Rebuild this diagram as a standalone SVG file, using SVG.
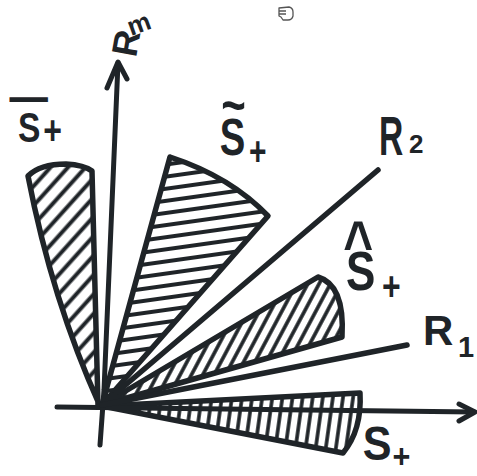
<svg xmlns="http://www.w3.org/2000/svg" width="477" height="476" viewBox="0 0 477 476">
<style>
.ink{stroke:#1f2428;stroke-width:5.5;stroke-linecap:round;stroke-linejoin:round}
.ln{fill:none;stroke:#1f2428;stroke-width:5.5;stroke-linecap:round;stroke-linejoin:round}
.ax{fill:none;stroke:#1f2428;stroke-width:5;stroke-linecap:round;stroke-linejoin:round}
.t{font-family:"Liberation Sans",Arial,sans-serif;font-weight:bold;fill:#1f2428}
</style>
<defs>
<pattern id="h1" patternUnits="userSpaceOnUse" width="13" height="13" patternTransform="rotate(-48)"><line x1="0" y1="6.5" x2="13" y2="6.5" stroke="#1f2428" stroke-width="4"/></pattern>
<pattern id="h2" patternUnits="userSpaceOnUse" width="12" height="12" patternTransform="rotate(-8)"><line x1="0" y1="6" x2="12" y2="6" stroke="#1f2428" stroke-width="4"/></pattern>
<pattern id="h3" patternUnits="userSpaceOnUse" width="10" height="10" patternTransform="rotate(-62)"><line x1="0" y1="5" x2="10" y2="5" stroke="#1f2428" stroke-width="3.6"/></pattern>
<pattern id="h4" patternUnits="userSpaceOnUse" width="10" height="10" patternTransform="rotate(-82)"><line x1="0" y1="5" x2="10" y2="5" stroke="#1f2428" stroke-width="3.6"/></pattern>
</defs>
<rect width="477" height="476" fill="#ffffff"/>

<g id="sector-bar-S">
<path d="M100,406 Q52,300 28,176 Q40,164 66,164 Q84,165 92,171 L98,406 Z" fill="url(#h1)" class="ink"/>
</g>
<g id="sector-tilde-S">
<path d="M102,405 L170,157 Q231,177 268,216 Z" fill="url(#h2)" class="ink"/>
</g>
<g id="sector-hat-S">
<path d="M102,405 L318,277 Q345,285 342,337 Z" fill="url(#h3)" class="ink"/>
</g>
<g id="sector-S">
<path d="M102,406 L360,393 Q362,430 343,453 Z" fill="url(#h4)" class="ink"/>
</g>

<g id="connectors">
<path class="ax" d="M57,407 L474,412"/>
<path class="ax" d="M459,404 L475,412 L459,421"/>
<path class="ax" d="M100,445 L104,390 Q111,240 118,63"/>
<path class="ax" d="M107,88 L118,62 L127,79"/>
<path class="ln" d="M102,405 L378,170"/>
<path class="ln" d="M102,405 L407,345"/>
</g>

<g id="label-Rm">
<text class="t" font-size="36" transform="translate(136,58) rotate(-80)">R</text>
<text class="t" font-size="26" transform="translate(131,36) rotate(-20)">m</text>
</g>
<g id="label-bar-S">
<text class="t" transform="scale(0.8,1)"><tspan x="12" y="113" font-size="48">—</tspan><tspan x="22.5" y="142" font-size="42">S</tspan><tspan x="54" y="144" font-size="40">+</tspan></text>
</g>
<g id="label-tilde-S">
<text class="t" transform="scale(0.75,1)"><tspan x="295" y="124" font-size="56">~</tspan><tspan x="293" y="155" font-size="51">S</tspan><tspan x="332" y="165" font-size="40">+</tspan></text>
</g>
<g id="label-R2">
<text class="t" font-size="56" transform="translate(379,155) scale(0.6,1)">R</text>
<text class="t" font-size="26" x="409" y="153">2</text>
</g>
<g id="label-hat-S">
<text class="t" transform="scale(0.8,1)"><tspan x="429" y="266" font-size="64">^</tspan><tspan x="432.5" y="290" font-size="55">S</tspan><tspan x="477.5" y="300" font-size="40">+</tspan></text>
</g>
<g id="label-R1">
<text class="t" font-size="42" x="423" y="345">R</text>
<text class="t" font-size="29" x="458" y="357">1</text>
</g>
<g id="label-S">
<text class="t" transform="scale(0.9,1)"><tspan x="403" y="460" font-size="48">S</tspan><tspan x="436" y="468" font-size="34">+</tspan></text>
</g>

<g id="cursor" fill="none" stroke="#555" stroke-width="1.3" stroke-linejoin="round">
<path d="M279,8 L289,7 Q293,8 293,12 L293,16 Q292,20 288,20 L283,20 L281,17 L279,16 Z"/>
<path d="M279,11 L286,11 M279,14 L286,14"/>
</g>
</svg>
